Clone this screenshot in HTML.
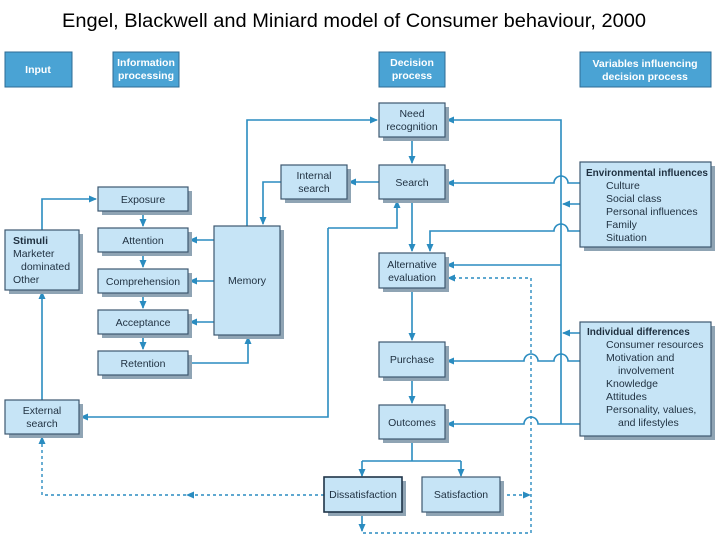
<!DOCTYPE html>
<html><head><meta charset="utf-8"><style>
html,body{margin:0;padding:0;background:#fff;}
svg{display:block;font-family:"Liberation Sans",sans-serif;}
.n{fill:#c6e4f6;stroke:#3d5870;stroke-width:1.2;}
.s{fill:#8fa4b4;}
.h{fill:#4aa3d4;stroke:#2d6b94;stroke-width:1;}
.ht{fill:#fff;font-weight:bold;font-size:10.5px;text-anchor:middle;}
.t{fill:#1f3040;font-size:10.5px;text-anchor:middle;}
.l{fill:#1f3040;font-size:10.5px;}
.w{stroke:#2a8cc0;stroke-width:1.6;fill:none;}
.d{stroke:#2a8cc0;stroke-width:1.4;fill:none;stroke-dasharray:3,3;}
</style></head><body>
<svg width="720" height="540" viewBox="0 0 720 540">
<defs><marker id="a" markerWidth="8" markerHeight="8" refX="7" refY="4" orient="auto" markerUnits="userSpaceOnUse"><path d="M0,0.5 L8,4 L0,7.5 Z" fill="#2a8cc0"/></marker></defs>
<text x="62" y="27" font-size="19" textLength="584" lengthAdjust="spacingAndGlyphs" fill="#000">Engel, Blackwell and Miniard model of Consumer behaviour, 2000</text>

<rect class="h" x="5" y="52" width="67" height="35"/><text class="ht" x="38" y="73">Input</text>
<rect class="h" x="113" y="52" width="66" height="35"/><text class="ht" x="146" y="66">Information</text><text class="ht" x="146" y="79">processing</text>
<rect class="h" x="379" y="52" width="66" height="35"/><text class="ht" x="412" y="66">Decision</text><text class="ht" x="412" y="79">process</text>
<rect class="h" x="580" y="52" width="131" height="35"/><text class="ht" x="645" y="67">Variables influencing</text><text class="ht" x="645" y="80">decision process</text>

<g class="w">
<path d="M247,226 V120 H377" marker-end="url(#a)"/>
<path d="M281,182 H263 V224" marker-end="url(#a)"/>
<path d="M379,182 H349" marker-end="url(#a)"/>
<path d="M412,137 V163" marker-end="url(#a)"/>
<path d="M412,199 V251" marker-end="url(#a)"/>
<path d="M412,288 V340" marker-end="url(#a)"/>
<path d="M412,377 V403" marker-end="url(#a)"/>
<path d="M412,439 V461 M362,461 H461"/>
<path d="M362,461 V476" marker-end="url(#a)"/>
<path d="M461,461 V476" marker-end="url(#a)"/>
<path d="M362,512 V531" marker-end="url(#a)"/>
<path d="M143,211 V226" marker-end="url(#a)"/>
<path d="M143,252 V267" marker-end="url(#a)"/>
<path d="M143,293 V308" marker-end="url(#a)"/>
<path d="M143,334 V349" marker-end="url(#a)"/>
<path d="M214,240 H190" marker-end="url(#a)"/>
<path d="M214,281 H190" marker-end="url(#a)"/>
<path d="M214,322 H190" marker-end="url(#a)"/>
<path d="M188,363 H248 V337" marker-end="url(#a)"/>
<path d="M42,230 V199 H96" marker-end="url(#a)"/>
<path d="M42,400 V292" marker-end="url(#a)"/>
<path d="M328,228 V417 H81" marker-end="url(#a)"/>
<path d="M328,228 H397 V201" marker-end="url(#a)"/>
<path d="M561,424 V120 H447" marker-end="url(#a)"/>
<path d="M580,183 H568 A7,7 0 0 0 554,183 H447" marker-end="url(#a)"/>
<path d="M580,204 H563" marker-end="url(#a)"/>
<path d="M580,231 H568 A7,7 0 0 0 554,231 H430 V251" marker-end="url(#a)"/>
<path d="M561,265 H447" marker-end="url(#a)"/>
<path d="M580,333 H563" marker-end="url(#a)"/>
<path d="M580,361 H568 A7,7 0 0 0 554,361 H538 A7,7 0 0 0 524,361 H447" marker-end="url(#a)"/>
<path d="M580,424 H538 A7,7 0 0 0 524,424 H447" marker-end="url(#a)"/>
</g>
<g class="d">
<path d="M447,278 H531 V533 H362"/>
<path d="M501,495 H529"/>
<path d="M324,495 H42 V438"/>
</g>
<path d="M447,278 L455,274.5 L455,281.5Z M531,495 L523,491.5 L523,498.5Z M186,495 L194,491.5 L194,498.5Z M42,436 L38.5,444 L45.5,444Z" fill="#2a8cc0"/>

<g>
<rect class="s" x="383" y="107" width="66" height="34"/><rect class="n" x="379" y="103" width="66" height="34"/>
<text class="t" x="412" y="117">Need</text><text class="t" x="412" y="130">recognition</text>
<rect class="s" x="383" y="169" width="66" height="34"/><rect class="n" x="379" y="165" width="66" height="34"/>
<text class="t" x="412" y="186">Search</text>
<rect class="s" x="285" y="169" width="66" height="34"/><rect class="n" x="281" y="165" width="66" height="34"/>
<text class="t" x="314" y="179">Internal</text><text class="t" x="314" y="192">search</text>
<rect class="s" x="383" y="257" width="66" height="35"/><rect class="n" x="379" y="253" width="66" height="35"/>
<text class="t" x="412" y="268">Alternative</text><text class="t" x="412" y="281">evaluation</text>
<rect class="s" x="383" y="346" width="66" height="35"/><rect class="n" x="379" y="342" width="66" height="35"/>
<text class="t" x="412" y="363">Purchase</text>
<rect class="s" x="383" y="409" width="66" height="34"/><rect class="n" x="379" y="405" width="66" height="34"/>
<text class="t" x="412" y="426">Outcomes</text>
<rect class="s" x="328" y="481" width="78" height="35"/><rect class="n" x="324" y="477" width="78" height="35" style="stroke:#1f3448;stroke-width:1.6"/>
<text class="t" x="363" y="498">Dissatisfaction</text>
<rect class="s" x="426" y="481" width="78" height="35"/><rect class="n" x="422" y="477" width="78" height="35"/>
<text class="t" x="461" y="498">Satisfaction</text>

<rect class="s" x="102" y="191" width="90" height="24"/><rect class="n" x="98" y="187" width="90" height="24"/><text class="t" x="143" y="203">Exposure</text>
<rect class="s" x="102" y="232" width="90" height="24"/><rect class="n" x="98" y="228" width="90" height="24"/><text class="t" x="143" y="244">Attention</text>
<rect class="s" x="102" y="273" width="90" height="24"/><rect class="n" x="98" y="269" width="90" height="24"/><text class="t" x="143" y="285">Comprehension</text>
<rect class="s" x="102" y="314" width="90" height="24"/><rect class="n" x="98" y="310" width="90" height="24"/><text class="t" x="143" y="326">Acceptance</text>
<rect class="s" x="102" y="355" width="90" height="24"/><rect class="n" x="98" y="351" width="90" height="24"/><text class="t" x="143" y="367">Retention</text>
<rect class="s" x="218" y="230" width="66" height="109"/><rect class="n" x="214" y="226" width="66" height="109"/><text class="t" x="247" y="284">Memory</text>

<rect class="s" x="9" y="234" width="74" height="60"/><rect class="n" x="5" y="230" width="74" height="60"/>
<text class="l" x="13" y="244" font-weight="bold">Stimuli</text>
<text class="l" x="13" y="257">Marketer</text><text class="l" x="21" y="270">dominated</text><text class="l" x="13" y="283">Other</text>
<rect class="s" x="9" y="404" width="74" height="34"/><rect class="n" x="5" y="400" width="74" height="34"/>
<text class="t" x="42" y="414">External</text><text class="t" x="42" y="427">search</text>

<rect class="s" x="584" y="166" width="131" height="85"/><rect class="n" x="580" y="162" width="131" height="85"/>
<text class="l" x="586" y="176" font-weight="bold" textLength="122" lengthAdjust="spacingAndGlyphs">Environmental influences</text>
<text class="l" x="606" y="189">Culture</text><text class="l" x="606" y="202">Social class</text><text class="l" x="606" y="215">Personal influences</text><text class="l" x="606" y="228">Family</text><text class="l" x="606" y="241">Situation</text>

<rect class="s" x="584" y="326" width="131" height="114"/><rect class="n" x="580" y="322" width="131" height="114"/>
<text class="l" x="587" y="335" font-weight="bold" style="font-size:10px">Individual differences</text>
<text class="l" x="606" y="348">Consumer resources</text><text class="l" x="606" y="361">Motivation and</text><text class="l" x="618" y="374">involvement</text>
<text class="l" x="606" y="387">Knowledge</text><text class="l" x="606" y="400">Attitudes</text><text class="l" x="606" y="413">Personality, values,</text><text class="l" x="618" y="426">and lifestyles</text>
</g>
</svg>
</body></html>
